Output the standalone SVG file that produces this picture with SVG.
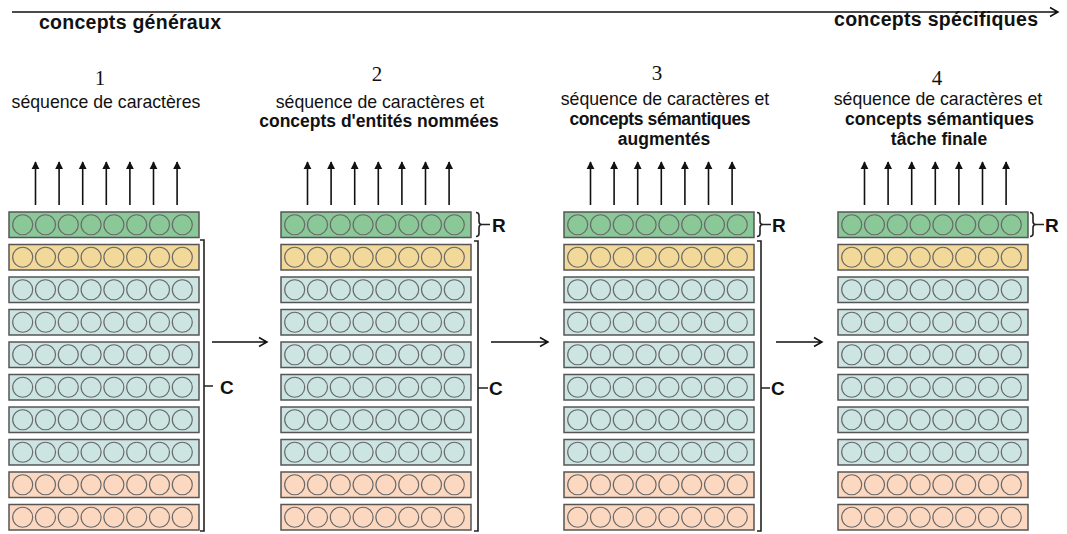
<svg xmlns="http://www.w3.org/2000/svg" xmlns:xlink="http://www.w3.org/1999/xlink" width="1067" height="534" viewBox="0 0 1067 534">
<style>
.reg{font-family:"Liberation Sans",Arial,sans-serif;font-size:17.7px;fill:#111;text-anchor:middle}
.bold{font-family:"Liberation Sans",Arial,sans-serif;font-size:17.5px;font-weight:bold;fill:#111;text-anchor:middle}
.num{font-family:"Liberation Serif","Times New Roman",serif;font-size:21px;fill:#111;text-anchor:middle}
.head{font-family:"Liberation Sans",Arial,sans-serif;font-size:19.5px;font-weight:bold;fill:#111}
.lbl{font-family:"Liberation Sans",Arial,sans-serif;font-size:19px;font-weight:bold;fill:#111}
.row{stroke:#555;stroke-width:1.5}
.g{fill:#8ac898}.y{fill:#f2d999}.b{fill:#cce5e3}.o{fill:#fdd8c1}
.circ{fill:none;stroke:#6a6a6a;stroke-width:1.2}
.up{stroke:#111;stroke-width:1.6;fill:none;marker-end:url(#tri)}
.conn{stroke:#111;stroke-width:1.5;fill:none}
.brk{stroke:#222;stroke-width:1.6;fill:none}
</style>
<defs>
<marker id="tri" viewBox="0 0 10 10" refX="9" refY="5" markerWidth="5" markerHeight="6" markerUnits="strokeWidth" orient="auto">
<path d="M0,0 L10,5 L0,10 z" fill="#111"/>
</marker>
<g id="circles">
<circle class="circ" cx="13.7" cy="0" r="10"/>
<circle class="circ" cx="36.5" cy="0" r="10"/>
<circle class="circ" cx="59.3" cy="0" r="10"/>
<circle class="circ" cx="82.1" cy="0" r="10"/>
<circle class="circ" cx="104.9" cy="0" r="10"/>
<circle class="circ" cx="127.7" cy="0" r="10"/>
<circle class="circ" cx="150.5" cy="0" r="10"/>
<circle class="circ" cx="173.3" cy="0" r="10"/>
</g>
<g id="stack">
<rect class="row g" x="0" y="212" width="190" height="25.5"/><use xlink:href="#circles" y="224.75"/>
<rect class="row y" x="0" y="244.5" width="190" height="25.5"/><use xlink:href="#circles" y="257.25"/>
<rect class="row b" x="0" y="277" width="190" height="25.5"/><use xlink:href="#circles" y="289.75"/>
<rect class="row b" x="0" y="309.5" width="190" height="25.5"/><use xlink:href="#circles" y="322.25"/>
<rect class="row b" x="0" y="342" width="190" height="25.5"/><use xlink:href="#circles" y="354.75"/>
<rect class="row b" x="0" y="374.5" width="190" height="25.5"/><use xlink:href="#circles" y="387.25"/>
<rect class="row b" x="0" y="407" width="190" height="25.5"/><use xlink:href="#circles" y="419.75"/>
<rect class="row b" x="0" y="439.5" width="190" height="25.5"/><use xlink:href="#circles" y="452.25"/>
<rect class="row o" x="0" y="472" width="190" height="25.5"/><use xlink:href="#circles" y="484.75"/>
<rect class="row o" x="0" y="504.5" width="190" height="25.5"/><use xlink:href="#circles" y="517.25"/>
<path class="up" d="M26.5,205 V162"/>
<path class="up" d="M50.1,205 V162"/>
<path class="up" d="M73.7,205 V162"/>
<path class="up" d="M97.3,205 V162"/>
<path class="up" d="M120.9,205 V162"/>
<path class="up" d="M144.5,205 V162"/>
<path class="up" d="M168.1,205 V162"/>
</g>
</defs>

<g id="header">
<path class="conn" d="M12,12 H1058 M1050,7.5 L1058,12 L1050,16.5"/>
<text class="head" x="39" y="29" textLength="182">concepts généraux</text>
<text class="head" x="834" y="26" textLength="204">concepts spécifiques</text>
</g>

<g id="stage1">
<text class="num" x="100" y="85">1</text>
<text class="reg" x="106" y="107.5">séquence de caractères</text>
<use xlink:href="#stack" x="9"/>
<path class="brk" d="M200,240 H204 V531 H200 M204,386 H213"/>
<text class="lbl" x="220" y="394">C</text>
</g>

<g id="stage2">
<text class="num" x="377" y="81">2</text>
<text class="reg" x="380" y="108">séquence de caractères et</text>
<text class="bold" x="379" y="127">concepts d'entités nommées</text>
<use xlink:href="#stack" x="281"/>
<path class="brk" d="M476,212.5 Q479,212.5 479,215.5 V221.5 Q479,224.5 482,224.5 H490 M482,224.5 Q479,224.5 479,227.5 V233.5 Q479,236.5 476,236.5"/>
<text class="lbl" x="492" y="232">R</text>
<path class="brk" d="M474,241 H478 V531 H474 M478,388 H488"/>
<text class="lbl" x="489" y="395">C</text>
</g>

<g id="stage3">
<text class="num" x="657" y="80">3</text>
<text class="reg" x="665" y="105">séquence de caractères et</text>
<text class="bold" x="660" y="125" textLength="181">concepts sémantiques</text>
<text class="bold" x="664" y="145">augmentés</text>
<use xlink:href="#stack" x="564"/>
<path class="brk" d="M757,212.5 Q760,212.5 760,215.5 V221.5 Q760,224.5 763,224.5 H771 M763,224.5 Q760,224.5 760,227.5 V233.5 Q760,236.5 757,236.5"/>
<text class="lbl" x="772" y="232">R</text>
<path class="brk" d="M757,241 H761 V531 H757 M761,388 H770"/>
<text class="lbl" x="771" y="395">C</text>
</g>

<g id="stage4">
<text class="num" x="937" y="85">4</text>
<text class="reg" x="938" y="105">séquence de caractères et</text>
<text class="bold" x="939.5" y="125" textLength="189">concepts sémantiques</text>
<text class="bold" x="939" y="145">tâche finale</text>
<use xlink:href="#stack" x="838"/>
<path class="brk" d="M1030,212.5 Q1033,212.5 1033,215.5 V221.5 Q1033,224.5 1036,224.5 H1044 M1036,224.5 Q1033,224.5 1033,227.5 V233.5 Q1033,236.5 1030,236.5"/>
<text class="lbl" x="1045" y="232">R</text>
</g>

<g id="connectors">
<path class="conn" d="M212,342 H267 M259,337.5 L267,342 L259,346.5"/>
<path class="conn" d="M491,342 H548 M540,337.5 L548,342 L540,346.5"/>
<path class="conn" d="M776,342 H822 M814,337.5 L822,342 L814,346.5"/>
</g>
</svg>
